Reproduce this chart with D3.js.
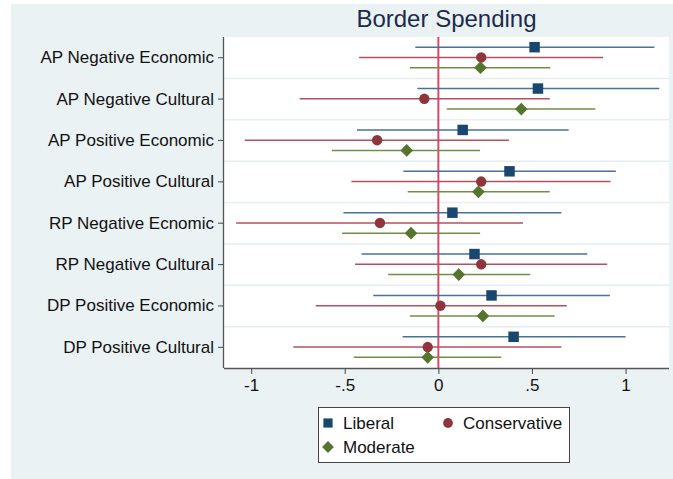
<!DOCTYPE html>
<html>
<head>
<meta charset="utf-8">
<script src="https://cdn.jsdelivr.net/npm/d3@7"></script>
<style>
  html, body { margin: 0; padding: 0; background: #ffffff; }
  svg text { font-family: "Liberation Sans", Arial, Helvetica, sans-serif; }
</style>
</head>
<body>
<svg id="chart" width="673" height="479"></svg>
<script>
// Treatment conditions (top to bottom)
const categories = [
  "AP Negative Economic",
  "AP Negative Cultural",
  "AP Positive Economic",
  "AP Positive Cultural",
  "RP Negative Ecnomic",
  "RP Negative Cultural",
  "DP Positive Economic",
  "DP Positive Cultural"
];

// Point estimates and confidence bounds by ideology
const liberalEst = [0.514, 0.532, 0.130, 0.380, 0.075, 0.193, 0.284, 0.402];
const liberalLo  = [-0.123, -0.112, -0.435, -0.187, -0.507, -0.410, -0.348, -0.191];
const liberalHi  = [1.154, 1.180, 0.696, 0.948, 0.657, 0.795, 0.916, 1.000];

const conservativeEst = [0.229, -0.075, -0.327, 0.229, -0.312, 0.229, 0.011, -0.057];
const conservativeLo  = [-0.423, -0.741, -1.034, -0.464, -1.080, -0.445, -0.655, -0.775];
const conservativeHi  = [0.880, 0.595, 0.377, 0.920, 0.452, 0.902, 0.686, 0.657];

const moderateEst = [0.225, 0.443, -0.169, 0.214, -0.146, 0.109, 0.238, -0.057];
const moderateLo  = [-0.152, 0.045, -0.569, -0.164, -0.514, -0.268, -0.152, -0.452];
const moderateHi  = [0.598, 0.839, 0.223, 0.595, 0.223, 0.491, 0.621, 0.336];

const xTicks = [-1, -0.5, 0, 0.5, 1];
const xTickLabels = ["-1", "-.5", "0", ".5", "1"];

const seriesNames = ["Liberal", "Conservative", "Moderate"];
const seriesColors = { Liberal: "#1a476f", Conservative: "#90353b", Moderate: "#55752f" };
const seriesLineColors = { Liberal: "#4a719a", Conservative: "#b5505e", Moderate: "#6f8f49" };

// Square symbol turned 45 degrees gives the symmetric diamond marker
const markerSpec = {
  Liberal: { shape: d3.symbolSquare, rotate: 0 },
  Conservative: { shape: d3.symbolCircle, rotate: 0 },
  Moderate: { shape: d3.symbolSquare, rotate: 45 }
};

const series = [
  { name: "Liberal", est: liberalEst, lo: liberalLo, hi: liberalHi, size: 110 },
  { name: "Conservative", est: conservativeEst, lo: conservativeLo, hi: conservativeHi, size: 85 },
  { name: "Moderate", est: moderateEst, lo: moderateLo, hi: moderateHi, size: 80 }
];

const svg = d3.select("#chart");
const W = 673, H = 479;

// Outer graph region
svg.append("rect").attr("x", 11).attr("y", 4).attr("width", W - 11).attr("height", H - 4)
  .attr("fill", "#eaf2f3");

const plot = { left: 224, right: 669, top: 37, bottom: 368 };

const x = d3.scaleLinear()
  .domain([-1.145, 1.232])
  .range([plot.left, plot.right]);

const y = d3.scaleBand()
  .domain(categories)
  .range([plot.top, plot.bottom]);

const offset = d3.scalePoint()
  .domain(seriesNames)
  .range([-10.5, 10]);

// Plot region
svg.append("rect")
  .attr("x", plot.left).attr("y", plot.top)
  .attr("width", plot.right - plot.left).attr("height", plot.bottom - plot.top)
  .attr("fill", "#ffffff");

// Horizontal separators between conditions
svg.append("g")
  .selectAll("line")
  .data(categories.slice(1))
  .join("line")
  .attr("x1", plot.left).attr("x2", plot.right)
  .attr("y1", d => y(d)).attr("y2", d => y(d))
  .attr("stroke", "#e6eef0").attr("stroke-width", 1.5);

// Reference line at zero
svg.append("line")
  .attr("x1", x(0)).attr("x2", x(0))
  .attr("y1", plot.top).attr("y2", plot.bottom)
  .attr("stroke", "#db4a67").attr("stroke-width", 2);

// Confidence intervals and estimates
series.forEach(s => {
  const g = svg.append("g");
  const m = markerSpec[s.name];
  const rows = categories.map((c, i) => ({ c, est: s.est[i], lo: s.lo[i], hi: s.hi[i] }));
  const yy = d => y(d.c) + y.bandwidth() / 2 + offset(s.name);

  g.selectAll("line")
    .data(rows)
    .join("line")
    .attr("x1", d => x(d.lo)).attr("x2", d => x(d.hi))
    .attr("y1", yy).attr("y2", yy)
    .attr("stroke", seriesLineColors[s.name]).attr("stroke-width", 1.6);

  g.selectAll("path")
    .data(rows)
    .join("path")
    .attr("d", d3.symbol().type(m.shape).size(s.size))
    .attr("transform", d => `translate(${x(d.est)},${yy(d)}) rotate(${m.rotate})`)
    .attr("fill", seriesColors[s.name]);
});

// Axes
const axisColor = "#555555";
const xAxis = svg.append("g")
  .attr("transform", `translate(0,${plot.bottom})`)
  .call(d3.axisBottom(x).tickValues(xTicks).tickFormat((d, i) => xTickLabels[i]).tickSize(6).tickPadding(5));
xAxis.select(".domain").attr("d", `M${plot.left},0.5H${plot.right}`);

const yAxis = svg.append("g")
  .attr("transform", `translate(${plot.left},0)`)
  .call(d3.axisLeft(y).tickSize(6).tickPadding(4));
yAxis.select(".domain").attr("d", `M-0.5,${plot.top}V${plot.bottom}`);

[xAxis, yAxis].forEach(a => {
  a.select(".domain").attr("stroke", axisColor).attr("stroke-width", 1.3);
  a.selectAll(".tick line").attr("stroke", axisColor).attr("stroke-width", 1.1);
  a.selectAll(".tick text").attr("font-size", 17).attr("fill", "#111111");
});

// Title
svg.append("text")
  .attr("x", (plot.left + plot.right) / 2).attr("y", 27)
  .attr("text-anchor", "middle")
  .attr("font-size", 24)
  .attr("fill", "#1c2a4e")
  .text("Border Spending");

// Legend
const legend = svg.append("g");
legend.append("rect")
  .attr("x", 318.5).attr("y", 407.5).attr("width", 251).attr("height", 55)
  .attr("fill", "#ffffff").attr("stroke", "#444444").attr("stroke-width", 1);

const legendPos = [
  { name: "Liberal", x: 328, y: 423, size: 85 },
  { name: "Conservative", x: 448, y: 423, size: 75 },
  { name: "Moderate", x: 328, y: 447, size: 70 }
];
legendPos.forEach(p => {
  const m = markerSpec[p.name];
  legend.append("path")
    .attr("d", d3.symbol().type(m.shape).size(p.size))
    .attr("transform", `translate(${p.x},${p.y}) rotate(${m.rotate})`)
    .attr("fill", seriesColors[p.name]);
  legend.append("text")
    .attr("x", p.x + 15).attr("y", p.y + 6)
    .attr("font-size", 17).attr("fill", "#111111")
    .text(p.name);
});
</script>
</body>
</html>
